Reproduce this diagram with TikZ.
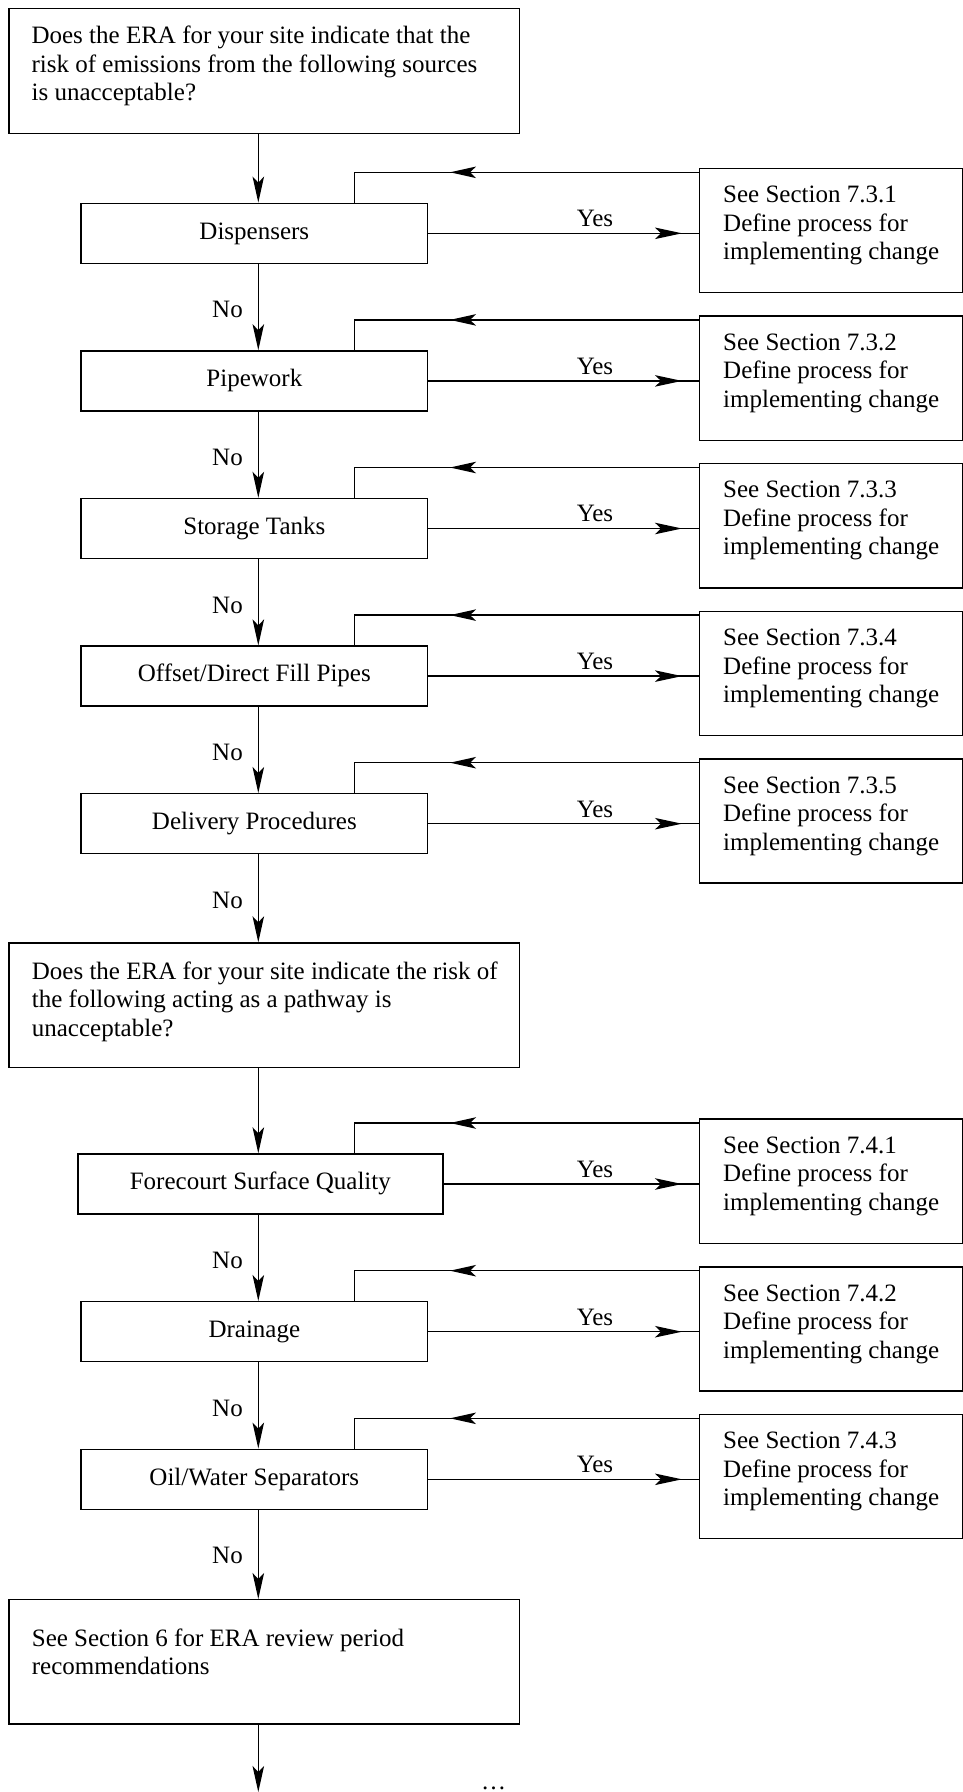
\documentclass[tikz,border=0pt]{standalone}
\usepackage{fontspec}
\setmainfont{Liberation Serif}
\usetikzlibrary{arrows.meta,decorations.markings}
\newcommand\fs{\fontsize{25}{28.5}\selectfont}
\newcommand\ptext[2]{\parbox[t]{#1}{\raggedright #2}}
\newcommand\flowrow[6]{%
  \node[lbox, minimum width={(#4-#3)*1pt}] (b#1) at ({(#3+#4)/2},#2) {#5};
  \node[box, minimum width=263pt, minimum height=124.3pt, anchor=north west] (r#1) at (699,{#2-65.6}) {};
  \node[txt, anchor=base west] (rt#1) at (723,{#2-30.6}) {\ptext{235pt}{See Section #6\\Define process for\\implementing change}};
  \coordinate (f#1) at (354.3,{#2-61});
  \draw[yesline] (b#1.east) -- (b#1.east -| r#1.west);
  \node[txt, anchor=base] (y#1) at (595,{#2-6.6}) {Yes};
  \draw[fbline] (r#1.west |- f#1) -- (f#1) -- (f#1 |- b#1.north);
}
\begin{document}
\begin{tikzpicture}[x=1pt,y=-1pt,
  box/.style={draw, line width=1.4pt, inner sep=0pt},
  lbox/.style={box, minimum height=60pt, font=\fs, text height=17pt, text depth=5.5pt},
  txt/.style={inner sep=0pt, font=\fs},
  arr/.style={line width=1.4pt, -{Stealth[length=26pt,width=11.5pt,inset=6pt]}},
  yesline/.style={line width=1.4pt, decoration={markings, mark=at position -17pt with {\arrow{Stealth[length=27pt,width=11.5pt,inset=6pt]}}}, postaction={decorate}},
  fbline/.style={line width=1.4pt, decoration={markings, mark=at position 249pt with {\arrow{Stealth[length=26pt,width=11.5pt,inset=6pt]}}}, postaction={decorate}},
]
\useasboundingbox (0,0) rectangle (963,1792);
\coordinate (sp) at (258.3,0);
\coordinate (fin) at (258.3,1792);

% question boxes
\node[box, minimum width=510.7pt, minimum height=125.5pt, anchor=north west] (q1) at (8.3,7.5) {};
\node[txt, anchor=base west] (q1t) at (31.4,43.8) {\ptext{490pt}{Does the ERA for your site indicate that the\\risk of emissions from the following sources\\is unacceptable?}};
\node[box, minimum width=510.7pt, minimum height=124.4pt, anchor=north west] (q2) at (8.3,942.3) {};
\node[txt, anchor=base west] (q2t) at (31.7,979) {\ptext{490pt}{Does the ERA for your site indicate the risk of\\the following acting as a pathway is\\unacceptable?}};
\node[box, minimum width=510.7pt, minimum height=124.3pt, anchor=north west] (q3) at (8.3,1599) {};
\node[txt, anchor=base west] (q3t) at (31.7,1646) {\ptext{490pt}{See Section 6 for ERA review period\\recommendations}};

% rows
\flowrow{1}{233.3}{81}{427.7}{Dispensers}{7.3.1}
\flowrow{2}{380.9}{81}{427.7}{Pipework}{7.3.2}
\flowrow{3}{528.5}{81}{427.7}{Storage Tanks}{7.3.3}
\flowrow{4}{676.1}{81}{427.7}{Offset\slash Direct Fill Pipes}{7.3.4}
\flowrow{5}{823.7}{81}{427.7}{Delivery Procedures}{7.3.5}
\flowrow{6}{1184}{77.8}{442.9}{Forecourt Surface Quality}{7.4.1}
\flowrow{7}{1331.7}{81}{427.7}{Drainage}{7.4.2}
\flowrow{8}{1479.3}{81}{427.7}{Oil\slash Water Separators}{7.4.3}

% vertical connectors
\draw[arr] (q1.south -| sp) -- (b1.north -| sp);
\draw[arr] (b1.south -| sp) -- (b2.north -| sp);
\draw[arr] (b2.south -| sp) -- (b3.north -| sp);
\draw[arr] (b3.south -| sp) -- (b4.north -| sp);
\draw[arr] (b4.south -| sp) -- (b5.north -| sp);
\draw[arr] (b5.south -| sp) -- (q2.north -| sp);
\draw[arr] (q2.south -| sp) -- (b6.north -| sp);
\draw[arr] (b6.south -| sp) -- (b7.north -| sp);
\draw[arr] (b7.south -| sp) -- (b8.north -| sp);
\draw[arr] (b8.south -| sp) -- (q3.north -| sp);
\draw[arr] (q3.south -| sp) -- (fin);

% No labels
\node[txt, anchor=base east] (no1) at (243,{233.3+84.5}) {No};
\node[txt, anchor=base east] (no2) at (243,{380.9+84.5}) {No};
\node[txt, anchor=base east] (no3) at (243,{528.5+84.5}) {No};
\node[txt, anchor=base east] (no4) at (243,{676.1+84.5}) {No};
\node[txt, anchor=base east] (no5) at (243,{823.7+84.5}) {No};
\node[txt, anchor=base east] (no6) at (243,{1184+84.5}) {No};
\node[txt, anchor=base east] (no7) at (243,{1331.7+84.5}) {No};
\node[txt, anchor=base east] (no8) at (243,{1479.3+84.5}) {No};

\node[txt, anchor=base west] (dots) at (481,1789.5) {…};
\end{tikzpicture}
\end{document}
